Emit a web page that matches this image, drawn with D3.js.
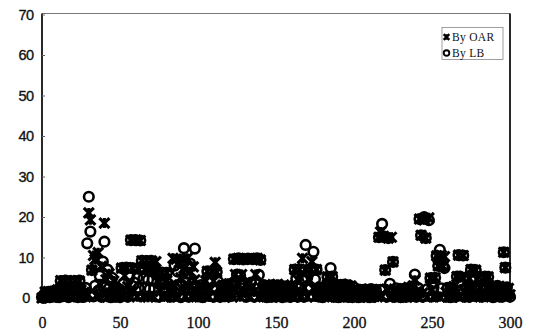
<!DOCTYPE html>
<html>
<head>
<meta charset="utf-8">
<script src="https://cdn.jsdelivr.net/npm/d3@7"></script>
<style>
  html, body { margin: 0; padding: 0; background: #fff; }
  svg { display: block; }
</style>
</head>
<body>
<div class="chart-wrapper"></div>
<script>
// axis ticks
const xTicks = [0, 50, 100, 150, 200, 250, 300];
const yTicks = [0, 10, 20, 30, 40, 50, 60, 70];

// series values, one per day 0..300
const byOAR = [
  0, 0.3, 1.5, 0.2, 1.6, 0.5, 1.4, 0.2, 1.6, 0.6,
  2.0, 0.4, 4.3, 2.2, 0.3, 4.2, 2.4, 0.5, 4.3, 2.1,
  0.4, 4.3, 2.2, 0.3, 4.2, 2.0, 0.5, 1.4, 0.3, 1.0,
  21.0, 19.3, 6.9, 10.5, 9.5, 0.6, 11.2, 3.5, 7.8, 1.2,
  18.5, 4.5, 0.2, 6.0, 2.8, 0.4, 4.2, 1.5, 0.2, 2.0,
  1.5, 7.4, 0.4, 5.5, 7.5, 2.8, 0.5, 14.3, 7.4, 1.8,
  14.3, 0.3, 7.0, 14.2, 9.2, 0.4, 7.0, 9.2, 0.2, 6.8,
  9.2, 0.5, 7.0, 9.0, 6.2, 3.8, 1.6, 6.3, 0.3, 4.0,
  6.2, 0.5, 2.0, 3.2, 9.8, 3.0, 9.6, 0.3, 8.8, 5.0,
  2.2, 7.3, 0.4, 9.8, 2.8, 6.5, 0.5, 7.7, 4.5, 0.3,
  2.8, 0.3, 1.8, 3.0, 0.5, 4.2, 6.6, 0.3, 2.2, 6.5,
  4.2, 8.8, 6.4, 0.4, 2.6, 1.0, 3.2, 0.2, 2.8, 1.2,
  3.5, 1.2, 0.3, 9.6, 5.8, 3.4, 9.8, 0.3, 5.8, 9.5,
  1.2, 3.5, 9.7, 0.4, 2.6, 9.6, 1.5, 5.8, 9.8, 0.3,
  9.4, 2.4, 0.3, 3.3, 1.2, 0.4, 3.0, 1.6, 0.2, 2.8,
  1.0, 3.4, 0.3, 2.2, 0.5, 3.1, 1.3, 0.2, 2.6, 0.6,
  3.2, 0.3, 7.0, 1.5, 4.5, 7.1, 0.4, 9.8, 2.5, 7.0,
  0.3, 4.6, 7.1, 9.0, 2.4, 0.3, 7.0, 2.2, 0.5, 2.7,
  1.2, 0.3, 2.4, 5.2, 0.4, 3.0, 5.3, 1.2, 0.3, 3.3,
  1.4, 0.3, 3.4, 2.0, 0.2, 3.2, 1.0, 0.4, 3.0, 1.6,
  0.3, 2.1, 0.6, 1.8, 0.2, 2.2, 1.0, 0.4, 2.0, 0.8,
  1.6, 0.2, 2.1, 0.5, 1.9, 0.3, 15.0, 16.3, 0.4, 15.2,
  6.9, 2.2, 14.8, 0.3, 15.0, 8.9, 1.5, 0.2, 2.0, 0.8,
  1.6, 0.3, 2.3, 1.1, 0.2, 2.6, 1.0, 0.4, 3.0, 4.4,
  1.5, 0.4, 19.5, 15.5, 1.2, 19.3, 14.8, 0.3, 19.8, 4.9,
  2.0, 0.3, 5.0, 10.4, 7.9, 0.3, 10.5, 7.8, 10.2, 1.4,
  0.3, 2.4, 1.2, 0.2, 2.8, 1.0, 5.3, 10.6, 0.4, 5.2,
  10.5, 1.6, 0.3, 2.8, 4.8, 7.0, 0.3, 2.4, 6.9, 4.6,
  0.4, 2.6, 1.2, 0.3, 5.3, 2.4, 5.2, 0.4, 2.6, 1.0,
  2.8, 0.3, 1.6, 2.9, 0.5, 2.2, 11.3, 7.5, 0.4, 2.4, 0.8
];

const byLB = [
  0.2, 0, 1.2, 0.4, 1.5, 0.2, 1.6, 0.4, 1.3, 0.3,
  1.8, 0.2, 4.2, 2.0, 0.6, 4.3, 2.3, 0.2, 4.1, 2.4,
  0.6, 4.2, 2.5, 0.2, 4.3, 1.8, 0.3, 0.3, 2.5, 13.5,
  25.0, 16.4, 6.9, 0.4, 3.0, 8.0, 1.8, 5.5, 0.3, 9.0,
  13.9, 0.6, 7.0, 2.4, 0.2, 5.0, 1.8, 0.3, 2.6, 0.5,
  0.2, 7.4, 3.5, 1.5, 7.5, 0.3, 5.2, 14.3, 7.4, 3.8,
  14.3, 5.0, 2.5, 14.2, 9.2, 4.8, 2.5, 9.1, 4.5, 2.2,
  9.2, 4.6, 2.3, 0.4, 6.2, 0.3, 4.0, 6.3, 2.5, 1.2,
  6.2, 3.5, 0.3, 1.5, 0.4, 8.0, 1.2, 6.5, 3.3, 0.2,
  9.0, 12.3, 4.0, 6.0, 0.3, 8.5, 3.5, 1.5, 12.2, 2.5,
  0.4, 2.0, 3.2, 0.2, 1.6, 2.4, 6.6, 4.3, 0.5, 6.5,
  0.3, 2.0, 6.4, 4.0, 0.3, 3.0, 1.4, 2.5, 0.6, 3.4,
  0.4, 2.4, 3.6, 9.6, 1.5, 5.8, 9.8, 5.6, 2.4, 9.5,
  3.6, 0.3, 9.7, 2.2, 3.8, 9.6, 0.3, 3.5, 9.8, 5.7,
  9.4, 0.5, 3.2, 1.4, 0.2, 2.8, 1.0, 0.3, 3.2, 1.4,
  0.4, 2.0, 1.2, 3.0, 0.2, 1.8, 0.4, 2.9, 1.0, 0.3,
  0.4, 2.0, 7.0, 4.8, 0.3, 7.1, 2.6, 4.8, 0.3, 13.1,
  5.0, 2.2, 7.1, 0.5, 11.4, 4.6, 7.0, 0.4, 2.5, 1.0,
  0.2, 2.8, 1.5, 5.2, 2.8, 7.4, 5.3, 0.3, 2.6, 1.0,
  0.2, 3.2, 1.6, 0.4, 3.3, 1.2, 0.3, 3.1, 1.8, 0.2,
  2.6, 0.8, 1.6, 0.2, 2.0, 1.0, 0.3, 2.1, 0.6, 1.8,
  0.2, 2.2, 1.2, 0.3, 2.0, 0.8, 15.0, 2.0, 18.3, 15.2,
  6.9, 0.3, 14.8, 3.5, 1.2, 8.9, 0.3, 2.4, 0.6, 1.9,
  0.2, 2.2, 1.0, 0.3, 2.4, 1.2, 0.4, 2.8, 1.0, 5.8,
  0.3, 2.5, 19.5, 15.5, 0.3, 20.0, 14.8, 2.2, 19.2, 4.9,
  0.4, 2.6, 5.0, 10.4, 7.9, 11.9, 2.4, 7.8, 7.4, 0.3,
  2.5, 1.0, 0.2, 2.6, 1.4, 0.3, 5.3, 10.6, 5.3, 2.0,
  10.5, 0.3, 2.5, 1.0, 0.3, 7.0, 4.6, 0.8, 6.9, 2.2,
  1.0, 4.5, 0.3, 2.8, 5.3, 0.5, 5.2, 2.6, 1.0, 0.2,
  0.3, 2.0, 3.0, 0.4, 1.8, 0.3, 11.3, 7.5, 2.6, 1.0, 0.3
];

const seriesNames = ['By OAR', 'By LB'];

// layout
const width = 539, height = 333;
const plot = {left: 42, right: 510, top: 14.5, bottom: 298};

const svg = d3.select('.chart-wrapper')
  .append('svg')
  .attr('width', width)
  .attr('height', height);

const x = d3.scaleLinear().domain([0, 300]).range([plot.left, plot.right]);
const y = d3.scaleLinear().domain([0, 70]).range([plot.bottom, plot.top]);

// plot frame
svg.append('line')
  .attr('x1', plot.left).attr('x2', plot.right)
  .attr('y1', plot.top - 1).attr('y2', plot.top - 1)
  .attr('stroke', '#777').attr('stroke-width', 1);
svg.append('line')
  .attr('x1', plot.right).attr('x2', plot.right)
  .attr('y1', plot.top - 1).attr('y2', plot.bottom)
  .attr('stroke', '#111').attr('stroke-width', 1.8);

// y axis
const yAxis = svg.append('g')
  .attr('transform', `translate(${plot.left},0)`)
  .call(d3.axisLeft(y).tickValues(yTicks).tickSizeInner(-3).tickSizeOuter(0).tickFormat(d3.format('d')));
yAxis.select('.domain').attr('stroke', '#111').attr('stroke-width', 1.8)
  .attr('d', `M0,${plot.top - 1}V${plot.bottom}`);
yAxis.selectAll('.tick line').attr('stroke', '#666');
yAxis.selectAll('.tick text')
  .attr('x', -16)
  .attr('text-anchor', 'middle')
  .attr('font-family', '"Liberation Sans", Arial, sans-serif')
  .attr('font-size', 14.5)
  .attr('letter-spacing', -0.6)
  .attr('fill', '#111')
  .attr('stroke', '#111')
  .attr('stroke-width', 0.35);

// x axis labels
const xAxis = svg.append('g')
  .attr('transform', `translate(0,${plot.bottom})`)
  .call(d3.axisBottom(x).tickValues(xTicks).tickSize(0).tickPadding(19).tickFormat(d3.format('d')));
xAxis.select('.domain').remove();
xAxis.selectAll('.tick text')
  .attr('font-family', '"Liberation Serif", "Times New Roman", serif')
  .attr('font-size', 16)
  .attr('fill', '#111')
  .attr('stroke', '#111')
  .attr('stroke-width', 0.3);

// markers
const starPath = r => `M${-r},${-r}L${r},${r}M${-r},${r}L${r},${-r}M0,${-r}V${r}`;

const pts = d3.range(byOAR.length);

svg.append('g').selectAll('path')
  .data(pts)
  .join('path')
  .attr('transform', i => `translate(${x(i)},${y(byOAR[i])})`)
  .attr('d', starPath(5))
  .attr('fill', 'none')
  .attr('stroke', '#000')
  .attr('stroke-width', 3.1);

svg.append('g').selectAll('circle')
  .data(pts)
  .join('circle')
  .attr('cx', i => x(i))
  .attr('cy', i => y(byLB[i]))
  .attr('r', 4.8)
  .attr('fill', 'none')
  .attr('stroke', '#000')
  .attr('stroke-width', 2.6);

// legend
const legend = svg.append('g').attr('transform', 'translate(442,27.5)');
legend.append('rect')
  .attr('width', 61).attr('height', 32)
  .attr('fill', '#fff')
  .attr('stroke', '#888').attr('stroke-width', 0.8);
legend.append('path')
  .attr('transform', 'translate(4.5,9.5)')
  .attr('d', starPath(2.8))
  .attr('stroke', '#000').attr('stroke-width', 2.4);
legend.append('circle')
  .attr('cx', 4.5).attr('cy', 25.5).attr('r', 2.8)
  .attr('fill', 'none').attr('stroke', '#000').attr('stroke-width', 1.9);
legend.selectAll('text')
  .data(seriesNames)
  .join('text')
  .attr('x', 10)
  .attr('y', (d, i) => 13 + i * 16.5)
  .attr('font-family', '"Liberation Serif", "Times New Roman", serif')
  .attr('font-size', 11.5)
  .attr('letter-spacing', 0.3)
  .attr('fill', '#111')
  .text(d => d);
</script>
</body>
</html>
